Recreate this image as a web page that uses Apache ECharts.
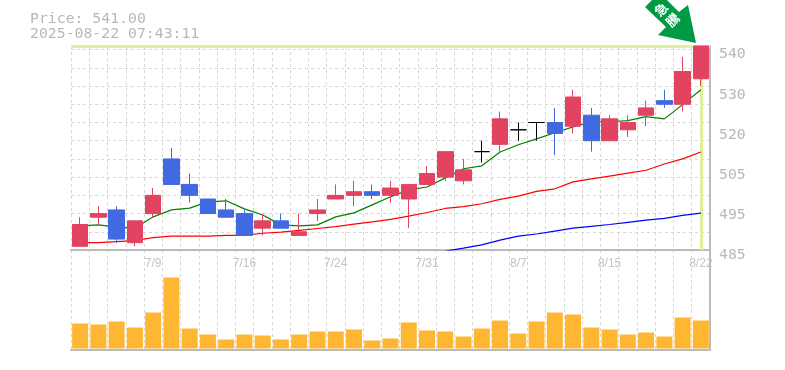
<!DOCTYPE html>
<html>
<head>
<meta charset="utf-8">
<style>html,body{margin:0;padding:0;background:#fff}#chart{width:785px;height:370px}</style>
<script src="https://cdn.jsdelivr.net/npm/echarts@6/dist/echarts.min.js"></script>
</head>
<body>
<div id="chart"></div>
<script>
// Daily candles with moving averages and volume
const dates = ['7/3','7/4','7/7','7/8','7/9','7/10','7/11','7/14','7/15','7/16','7/17','7/18','7/22','7/23','7/24','7/25','7/28','7/29','7/30','7/31','8/1','8/4','8/5','8/6','8/7','8/8','8/12','8/13','8/14','8/15','8/18','8/19','8/20','8/21','8/22'];
const opens  = [486,494,496,487,495,510,503,499,496,495,491,493,489,495,499,500,501,500,499,503,505,504,512,514,518,520,520,519,522,515,518,522,526,525,532];
const closes = [492,495,488,493,500,503,500,495,494,489,493,491,490,496,500,501,500,502,503,506,512,507,512,521,518,520,517,527,515,521,520,524,525,534,541];
const lows   = [486,492,487,486,494,503,498,495,494,489,489,491,489,493,499,497,499,498,491,503,504,503,509,512,515,515,511,517,512,515,516,519,524,523,530];
const highs  = [494,497,497,493,502,513,506,499,499,496,495,495,495,499,503,504,503,504,503,508,512,510,515,523,520,520,524,529,524,522,522,526,529,538,541];
const maShort = [491.6,491.9,491.3,491.0,494.1,496.0,496.5,498.2,498.5,496.3,494.6,491.9,491.6,491.9,494.1,495.2,497.4,499.6,501.5,502.3,504.8,507.3,508.1,511.9,513.9,515.5,517.2,518.8,520.2,520.2,520.5,521.6,521.0,524.9,529.0];
const maMid = [487.0,487.0,487.3,487.6,488.4,488.8,488.8,488.8,489.0,489.0,489.6,489.9,490.4,490.9,491.4,492.1,492.7,493.4,494.3,495.3,496.4,496.9,497.7,498.9,499.8,501.1,501.8,503.7,504.5,505.3,506.1,506.9,508.6,510.0,511.9];
const maLong = [null,null,null,null,null,null,null,null,null,null,null,null,null,null,null,null,null,null,null,null,484.7,485.5,486.4,487.7,488.8,489.4,490.2,491.0,491.5,492.0,492.6,493.2,493.7,494.5,495.1];
const volumes = [25,24,27,21,36,71,20,14,9,14,13,9,14,17,17,19,8,10,26,18,17,12,20,28,15,27,36,34,21,19,14,16,12,31,28];
const priceTicks = [485,496,507,518,529,540];
const priceTickLabels = ['485','495','505','520','530','540'];
const lastPrice = 541;
const priceText = 'Price: 541.00';
const timeText = '2025-08-22 07:43:11';

const GRAY = '#b8b8b8';
const MONO = '"DejaVu Sans Mono", monospace';
const dashed = { color: '#d6d6d6', type: [3, 3], width: 1 };

const chart = echarts.init(document.getElementById('chart'), null, { renderer: 'canvas' });

chart.setOption({
  animation: false,
  backgroundColor: '#fff',
  title: {
    text: priceText + '\n' + timeText,
    left: 30,
    top: 12,
    padding: 0,
    textStyle: { color: GRAY, fontFamily: MONO, fontSize: 14.8, fontWeight: 'normal', lineHeight: 15 }
  },
  grid: [
    { left: 71, right: 75, top: 46, height: 204 },
    { left: 71, right: 75, top: 250, height: 100 }
  ],
  xAxis: [
    {
      type: 'category',
      gridIndex: 0,
      data: dates,
      axisLine: { lineStyle: { color: '#bbb', width: 2 } },
      axisTick: { show: false },
      axisLabel: {
        interval: (i) => i % 5 === 4,
        color: '#c4c4c4',
        fontFamily: '"Liberation Sans", sans-serif',
        fontSize: 12,
        margin: 8
      },
      splitLine: { show: true, interval: 0, lineStyle: dashed }
    },
    {
      type: 'category',
      gridIndex: 1,
      data: dates,
      axisLine: { onZero: false, lineStyle: { color: '#bbb', width: 2 } },
      axisTick: { show: false },
      axisLabel: { show: false },
      splitLine: { show: true, interval: 0, lineStyle: dashed }
    }
  ],
  yAxis: [
    {
      type: 'value',
      gridIndex: 0,
      position: 'right',
      min: 485,
      max: 541,
      interval: 5,
      axisLine: { show: true, lineStyle: { color: '#bbb', width: 2 } },
      axisTick: { show: false },
      axisLabel: {
        customValues: priceTicks,
        formatter: (v) => priceTickLabels[priceTicks.indexOf(v)],
        color: GRAY,
        fontFamily: MONO,
        fontSize: 14.8,
        margin: 9,
        verticalAlign: 'top',
        lineHeight: 10
      },
      splitLine: { show: true, lineStyle: dashed }
    },
    {
      type: 'value',
      gridIndex: 1,
      position: 'right',
      min: -1.5,
      max: 98.5,
      axisLine: { show: true, lineStyle: { color: '#bbb', width: 2 } },
      axisTick: { show: false },
      axisLabel: { show: false },
      splitLine: { show: false }
    }
  ],
  series: [
    // current price guide lines, under the candles
    {
      type: 'line',
      xAxisIndex: 0,
      yAxisIndex: 0,
      data: [],
      z: 1,
      silent: true,
      markLine: {
        z: 1,
        symbol: 'none',
        silent: true,
        animation: false,
        label: { show: false },
        lineStyle: { color: '#ddf09b', type: 'solid', width: 3 },
        data: [{ yAxis: lastPrice }, { xAxis: dates[dates.length - 1] }]
      }
    },
    {
      type: 'candlestick',
      xAxisIndex: 0,
      yAxisIndex: 0,
      barWidth: 16,
      z: 3,
      data: dates.map((d, i) => [opens[i], closes[i], lows[i], highs[i]]),
      itemStyle: {
        color: '#e24360',
        color0: '#4169e1',
        borderColor: '#e24360',
        borderColor0: '#4169e1',
        borderColorDoji: '#000',
        borderWidth: 1
      }
    },
    { type: 'line', xAxisIndex: 0, yAxisIndex: 0, data: maShort, symbol: 'none', z: 2, lineStyle: { color: '#008000', width: 1.2 } },
    { type: 'line', xAxisIndex: 0, yAxisIndex: 0, data: maMid, symbol: 'none', z: 2, lineStyle: { color: '#ff0000', width: 1.2 } },
    { type: 'line', xAxisIndex: 0, yAxisIndex: 0, data: maLong, symbol: 'none', z: 4, lineStyle: { color: '#0000ff', width: 1.2 } },
    {
      type: 'bar',
      xAxisIndex: 1,
      yAxisIndex: 1,
      barWidth: 16,
      data: volumes,
      itemStyle: { color: '#ffb733' }
    }
  ],
  // marker arrow in the top right corner
  graphic: [
    {
      type: 'polygon',
      shape: { points: [[645, 7], [652, 0], [667, 0], [679, 12], [688, 5], [696, 43], [658, 35], [666, 27]] },
      style: { fill: '#009944' },
      z: 10
    },
    {
      type: 'text',
      x: 661, y: 9.5, rotation: Math.PI / 4,
      style: { text: '急', fill: '#fff', font: 'bold 13px "Noto Sans CJK JP"', align: 'center', verticalAlign: 'middle' },
      z: 11
    },
    {
      type: 'text',
      x: 672.5, y: 20, rotation: Math.PI / 4,
      style: { text: '騰', fill: '#fff', font: 'bold 13px "Noto Sans CJK JP"', align: 'center', verticalAlign: 'middle' },
      z: 11
    }
  ]
});
</script>
</body>
</html>
